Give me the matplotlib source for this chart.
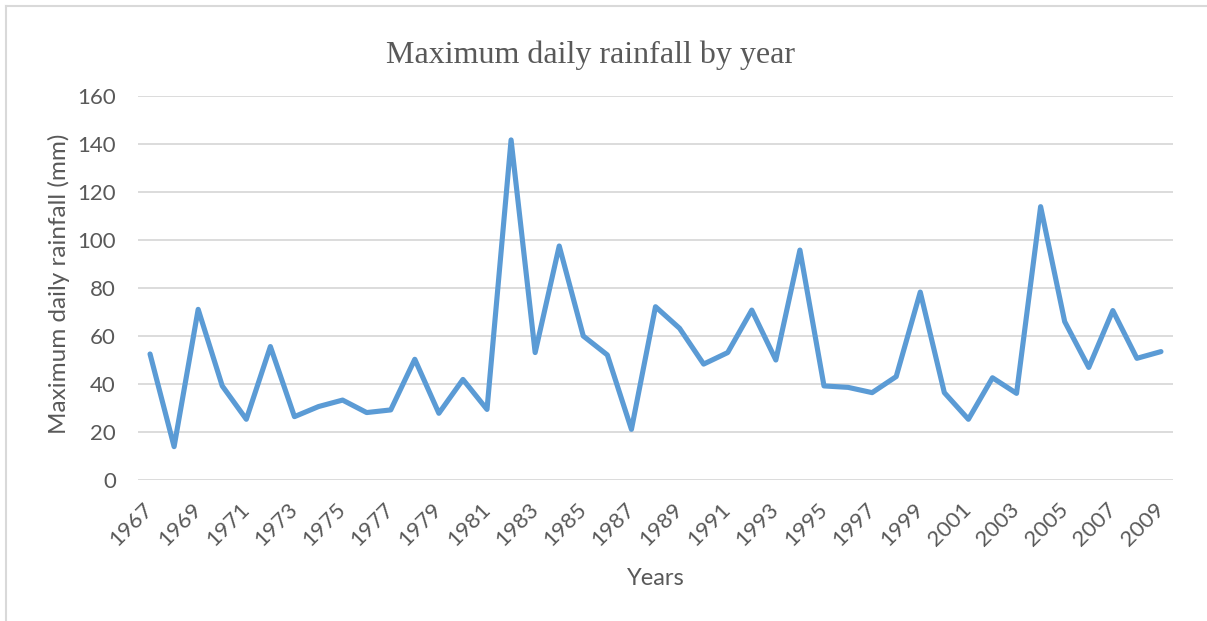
import matplotlib.pyplot as plt
from matplotlib.lines import Line2D

# annual maximum daily rainfall, 1967-2009
years = list(range(1967, 2010))
rain_mm = [52.5, 13.9, 71.1, 39.2, 25.3, 55.6, 26.4, 30.6, 33.3, 28.1,
           29.2, 50.3, 27.8, 41.9, 29.4, 141.7, 53.1, 97.5, 60.0, 52.1,
           21.1, 72.2, 63.2, 48.3, 53.1, 70.8, 50.0, 95.8, 39.2, 38.6,
           36.4, 43.1, 78.3, 36.4, 25.3, 42.6, 36.1, 113.9, 66.0, 46.9,
           70.6, 50.7, 53.5]
yticks = [0, 20, 40, 60, 80, 100, 120, 140, 160]

grey_txt = "#595959"
grid_col = "#D9D9D9"
line_col = "#5B9BD5"

plt.rcParams['font.family'] = ['Lato', 'DejaVu Sans']

fig = plt.figure(figsize=(12.07, 6.21), dpi=100)
ax = fig.add_axes([138/1207, 1-480/621, 1035/1207, 384/621])

idx = list(range(len(years)))
ax.plot(idx, rain_mm, color=line_col, lw=3.7, solid_joinstyle='round',
        solid_capstyle='round', zorder=3)

ax.set_xlim(-0.5, len(years)-0.5)
ax.set_ylim(0, 160)
ax.set_yticks(yticks)
ax.set_yticklabels([str(v) for v in yticks])
ax.yaxis.grid(True, color=grid_col, lw=1.3)
ax.set_axisbelow(True)

ax.set_xticks(idx[::2])
ax.set_xticklabels([str(y) for y in years[::2]], rotation=45,
                   ha='right', va='center', rotation_mode='anchor')
for s in ax.spines.values():
    s.set_visible(False)
ax.tick_params(axis='both', length=0, colors=grey_txt)
ax.tick_params(axis='y', pad=16, labelsize=16)
ax.tick_params(axis='x', pad=19, labelsize=16)

ax.set_ylabel("Maximum daily rainfall (mm)", fontsize=17.5, color=grey_txt)
ax.yaxis.set_label_coords(-0.066, 0.51)
ax.set_xlabel("Years", fontsize=17, color=grey_txt)
ax.xaxis.set_label_coords(0.5, -0.228)

fig.text(590/1207, 1-55/621, "Maximum daily rainfall by year",
         family='Liberation Serif', fontsize=23, color=grey_txt,
         ha='center', va='center')

# chart frame (left and top edges)
fig.add_artist(Line2D([5.5/1207, 5.5/1207], [0, 1-5.5/621], color=grid_col, lw=1.5))
fig.add_artist(Line2D([5.5/1207, 1], [1-5.5/621, 1-5.5/621], color=grid_col, lw=1.5))

fig.savefig("out.png", dpi=100, facecolor='white')
